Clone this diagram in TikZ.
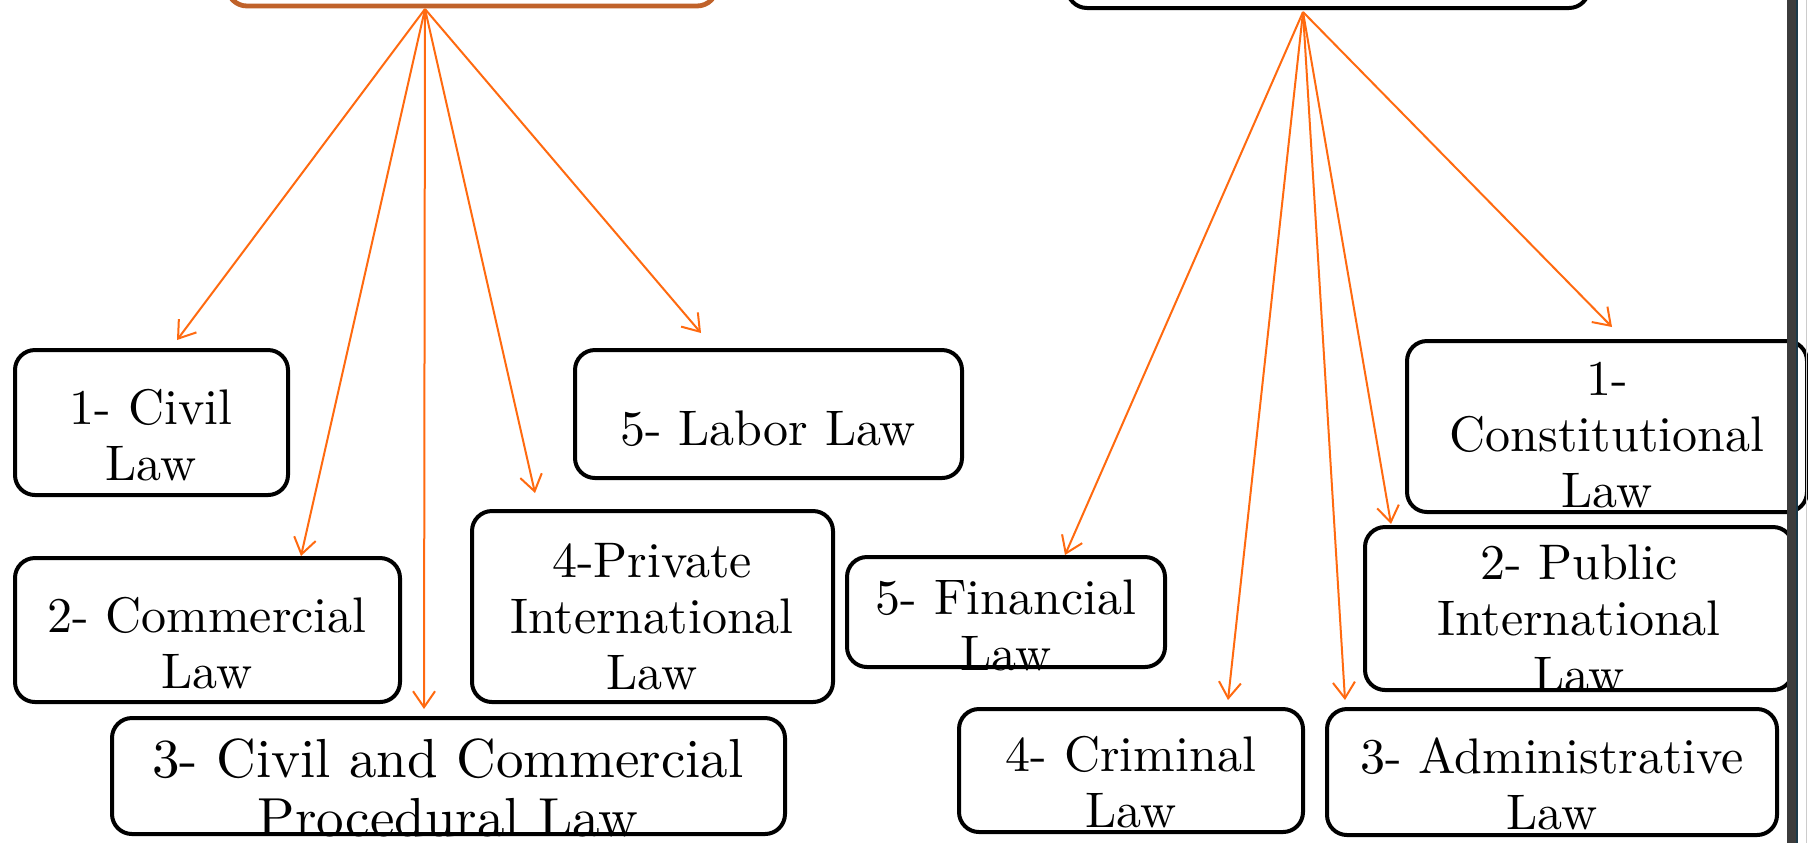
\documentclass[tikz,border=0pt]{standalone}
\usepackage{fontspec}
\setmainfont{lmroman10-regular.otf}
\usetikzlibrary{arrows.meta,fit}
\definecolor{arrorange}{HTML}{FF6A10}
\definecolor{boxbrown}{HTML}{C0622A}
\definecolor{bargray}{HTML}{3C3C3C}
\definecolor{barteal}{HTML}{1B3A4A}
\tikzset{
  box/.style={draw=black, line width=2pt, rounded corners=10pt, inner sep=0pt},
  topbrown/.style={draw=boxbrown, line width=2.4pt, rounded corners=10pt, inner sep=0pt},
  txt/.style={font=\fontsize{25}{28}\selectfont, align=center, inner sep=0pt, anchor=north,
              execute at begin node={\rule{0pt}{18pt}}},
  bigtxt/.style={font=\fontsize{27.5}{29.5}\selectfont, align=center, inner sep=0pt, anchor=north,
              execute at begin node={\rule{0pt}{20pt}}},
  arr/.style={draw=arrorange, line width=1pt, -{Straight Barb[length=8pt,width=11pt,line width=1pt]}}
}
\begin{document}
\begin{tikzpicture}[x=0.5pt,y=-0.5pt]
\useasboundingbox (0,0) rectangle (1808,843);
\clip (0,0) rectangle (1808,843);
\fill[white] (0,0) rectangle (1808,843);

% top boxes (cut off at the top edge)
\node[topbrown, fit={(227,-80) (717,6)}] (topL) {};
\node[box, fit={(1067,-80) (1589,8)}] (topR) {};
\coordinate (oL) at (425,9);
\coordinate (oR) at (1303,12);

% left group
\node[box, fit={(15,350) (288,495)}] (civil) {};
\node[txt] (civilT) at (151,389) {1- Civil\\Law};
\node[box, fit={(15,558) (400,702)}] (comm) {};
\node[txt] (commT) at (207,597) {2- Commercial\\Law};
\node[box, fit={(112,718) (785,834)}] (proc) {};
\node[bigtxt] (procT) at (448,738) {3- Civil and Commercial\\Procedural Law};
\node[box, fit={(472,511) (833,702)}] (priv) {};
\node[txt] (privT) at (652,543) {4-Private\\International\\Law};
\node[box, fit={(575,350) (962,478)}] (labor) {};
\node[txt] (laborT) at (768,409) {5- Labor Law};

% right group
\node[box, fit={(1407,341) (1807,512)}] (const) {};
\node[txt] (constT) at (1607,362) {1-\\Constitutional\\Law};
\node[box, fit={(1365,527) (1793,690)}] (public) {};
\node[txt] (publicT) at (1579,544) {2- Public\\International\\Law};
\node[box, fit={(1327,709) (1777,835)}] (admin) {};
\node[txt] (adminT) at (1552,737) {3- Administrative\\Law};
\node[box, fit={(959,709) (1303,832)}] (crim) {};
\node[txt] (crimT) at (1131,736) {4- Criminal\\Law};
\node[box, fit={(847,557) (1165,667)}] (fin) {};
\node[txt] (finT) at (1006,579) {5- Financial\\Law};

% arrow tips
\coordinate (tCivil) at (177,340);
\coordinate (tComm) at (301,556);
\coordinate (tProc) at (424,709);
\coordinate (tPriv) at (535,493);
\coordinate (tLabor) at (701,333);
\coordinate (tFin) at (1065,555);
\coordinate (tCrim) at (1228,700);
\coordinate (tAdmin) at (1345,700);
\coordinate (tPublic) at (1391,524);
\coordinate (tConst) at (1612,327);

\draw[arr] (oL) -- (tCivil);
\draw[arr] (oL) -- (tComm);
\draw[arr] (oL) -- (tProc);
\draw[arr] (oL) -- (tPriv);
\draw[arr] (oL) -- (tLabor);
\draw[arr] (oR) -- (tFin);
\draw[arr] (oR) -- (tCrim);
\draw[arr] (oR) -- (tAdmin);
\draw[arr] (oR) -- (tPublic);
\draw[arr] (oR) -- (tConst);

% right edge bar
\fill[bargray] (1787,0) rectangle (1796,843);
\draw[barteal, line width=0.8pt] (1797,0) -- (1797,843);
\draw[gray!40, line width=0.5pt] (1806,0) -- (1806,843);
\end{tikzpicture}
\end{document}
